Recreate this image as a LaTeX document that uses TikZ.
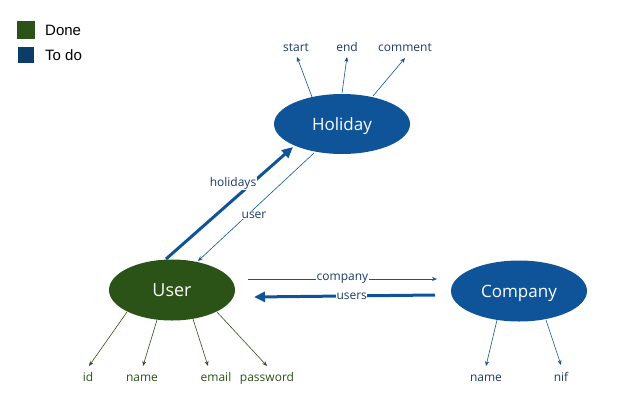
\documentclass[tikz,border=0pt]{standalone}
\usepackage{fontspec}
\setmainfont{Open Sans}
\newfontfamily\legendfont{Liberation Sans}
\usetikzlibrary{shapes.geometric,arrows.meta}
\definecolor{todoblue}{HTML}{0F5499}
\definecolor{doneg}{HTML}{2B5217}
\definecolor{legblue}{HTML}{0D3C68}
\definecolor{labblue}{HTML}{1B3A66}
\begin{document}
\begin{tikzpicture}[x=1pt,y=-1pt,
  ent/.style={ellipse,draw=none,text=white,font=\fontsize{17}{19}\selectfont,inner sep=0pt,text depth=0pt},
  attr/.style={font=\fontsize{12}{14}\selectfont,inner sep=1pt,anchor=base},
  thinarr/.style={-{Stealth[length=5pt,width=4pt]},line width=0.6pt},
  thickarr/.style={-{Triangle[length=11pt,width=10pt]},line width=3pt},
  rel/.style={font=\fontsize{12}{14}\selectfont,fill=white,inner sep=0.5pt,text=labblue},
  legtext/.style={anchor=west,inner sep=0pt,font=\legendfont\fontsize{15}{17}\selectfont}]
\useasboundingbox (0,0) rectangle (617,415);
% legend
\node[fill=doneg,minimum size=18pt,inner sep=0pt] (lg1) at (26,30) {};
\node[fill=legblue,minimum size=16pt,inner sep=0pt] (lg2) at (26,55) {};
\node[legtext] (lt1) at (45,30) {Done};
\node[legtext] (lt2) at (45,55) {To do};
% entities
\node[ent,fill=todoblue,minimum width=136pt,minimum height=60pt] (hol) at (342,124) {Holiday};
\node[ent,fill=doneg,minimum width=126pt,minimum height=61pt,font=\fontsize{18}{20}\selectfont] (usr) at (172,290) {User};
\node[ent,fill=todoblue,minimum width=136pt,minimum height=61pt] (com) at (519,291) {Company};
% holiday attributes
\node[attr,text=labblue] (hs) at (296,51) {start};
\node[attr,text=labblue] (he) at (347,51) {end};
\node[attr,text=labblue] (hc) at (405,51) {comment};
\draw[thinarr,draw=todoblue] (312,97) -- (297,57);
\draw[thinarr,draw=todoblue] (342,93) -- (347,57);
\draw[thinarr,draw=todoblue] (373,96) -- (405,58);
% user attributes
\node[attr,text=doneg] (ui) at (88,381) {id};
\node[attr,text=doneg] (un) at (142,381) {name};
\node[attr,text=doneg] (ue) at (216,381) {email};
\node[attr,text=doneg] (up) at (267,381) {password};
\draw[thinarr,draw=doneg] (127,312) -- (89,366);
\draw[thinarr,draw=doneg] (157,320) -- (143,366);
\draw[thinarr,draw=doneg] (193,319) -- (208,366);
\draw[thinarr,draw=doneg] (217,312) -- (267,366);
% company attributes
\node[attr,text=labblue] (cn) at (486,381) {name};
\node[attr,text=labblue] (cf) at (561,381) {nif};
\draw[thinarr,draw=todoblue] (497,320) -- (486,366);
\draw[thinarr,draw=todoblue] (546,320) -- (561,365);
% relations
\coordinate (h1) at (166,259); \coordinate (h2) at (293,147);
\draw[thickarr,draw=todoblue] (h1) -- (h2);
\node[rel] (hl) at (233,183) {holidays};
\coordinate (u1) at (314,153); \coordinate (u2) at (198,261);
\draw[thinarr,draw=todoblue] (u1) -- (u2);
\node[rel] (ul) at (254,215) {user};
\coordinate (c1) at (248,279); \coordinate (c2) at (437,279);
\draw[thinarr,draw=todoblue] (c1) -- (c2) node[rel,pos=0.5] {company};
\coordinate (s1) at (435,295); \coordinate (s2) at (254,297);
\draw[thickarr,draw=todoblue] (s1) -- (s2) node[rel,pos=0.46] {users};
\end{tikzpicture}
\end{document}
